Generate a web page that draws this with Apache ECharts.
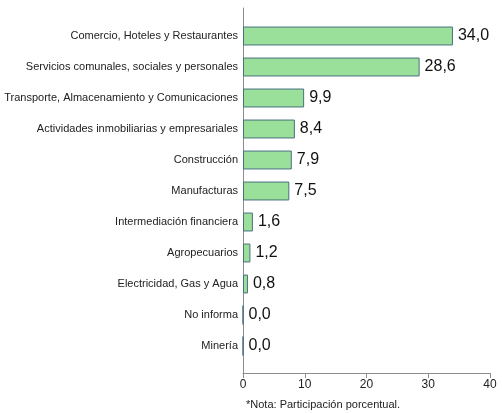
<!DOCTYPE html>
<html>
<head>
<meta charset="utf-8">
<script src="https://cdn.jsdelivr.net/npm/echarts@6/dist/echarts.min.js"></script>
<style>html,body{margin:0;padding:0;background:#fff;}#c{width:502px;height:413px;}</style>
</head>
<body>
<div id="c"></div>
<script>
var categories = [
  "Comercio, Hoteles y Restaurantes",
  "Servicios comunales, sociales y personales",
  "Transporte, Almacenamiento y Comunicaciones",
  "Actividades inmobiliarias y empresariales",
  "Construcción",
  "Manufacturas",
  "Intermediación financiera",
  "Agropecuarios",
  "Electricidad, Gas y Agua",
  "No informa",
  "Minería"
];
var values = [34.0, 28.6, 9.9, 8.4, 7.9, 7.5, 1.6, 1.2, 0.8, 0.0, 0.0];
var xTicks = [0, 10, 20, 30, 40];
var note = "*Nota: Participación porcentual.";

var font = "Liberation Sans, Arial, sans-serif";
var chart = echarts.init(document.getElementById('c'));
chart.setOption({
  animation: false,
  textStyle: { fontFamily: font },
  title: {
    text: note, left: 246, top: 399, padding: 0,
    textStyle: { fontSize: 11, fontWeight: 'normal', color: '#222', fontFamily: font }
  },
  grid: [
    { left: 243, right: 12, top: 8, bottom: 40, containLabel: false, outerBoundsMode: 'none' },
    { left: 243, right: 12, top: 20.5, bottom: 51.5, containLabel: false, outerBoundsMode: 'none' }
  ],
  xAxis: [
    {
      gridIndex: 0, type: 'value', min: xTicks[0], max: xTicks[xTicks.length - 1], interval: 10,
      axisLine: { show: true, lineStyle: { color: '#8c8c8c' } },
      axisTick: { show: true, length: 5, lineStyle: { color: '#8c8c8c' } },
      axisLabel: { color: '#222', fontSize: 12, margin: 6 },
      splitLine: { show: false }
    },
    {
      gridIndex: 1, type: 'value', min: xTicks[0], max: xTicks[xTicks.length - 1], show: false,
      splitLine: { show: false }
    }
  ],
  yAxis: [
    {
      gridIndex: 0, type: 'value', min: 0, max: 1,
      axisLine: { show: true, lineStyle: { color: '#8c8c8c' } },
      axisTick: { show: false }, axisLabel: { show: false }, splitLine: { show: false }
    },
    {
      gridIndex: 1, type: 'category', data: categories, inverse: true,
      axisLine: { show: false }, axisTick: { show: false },
      axisLabel: { color: '#222', fontSize: 11, margin: 5 }
    }
  ],
  series: [{
    type: 'bar', xAxisIndex: 1, yAxisIndex: 1, data: values,
    barCategoryGap: '39%',
    itemStyle: { color: '#9ae09b', borderColor: '#4a7080', borderWidth: 1 },
    label: {
      show: true, position: 'right', distance: 5, color: '#111', fontSize: 16,
      formatter: function (p) { return p.value.toFixed(1).replace('.', ','); }
    }
  }]
});
</script>
</body>
</html>
